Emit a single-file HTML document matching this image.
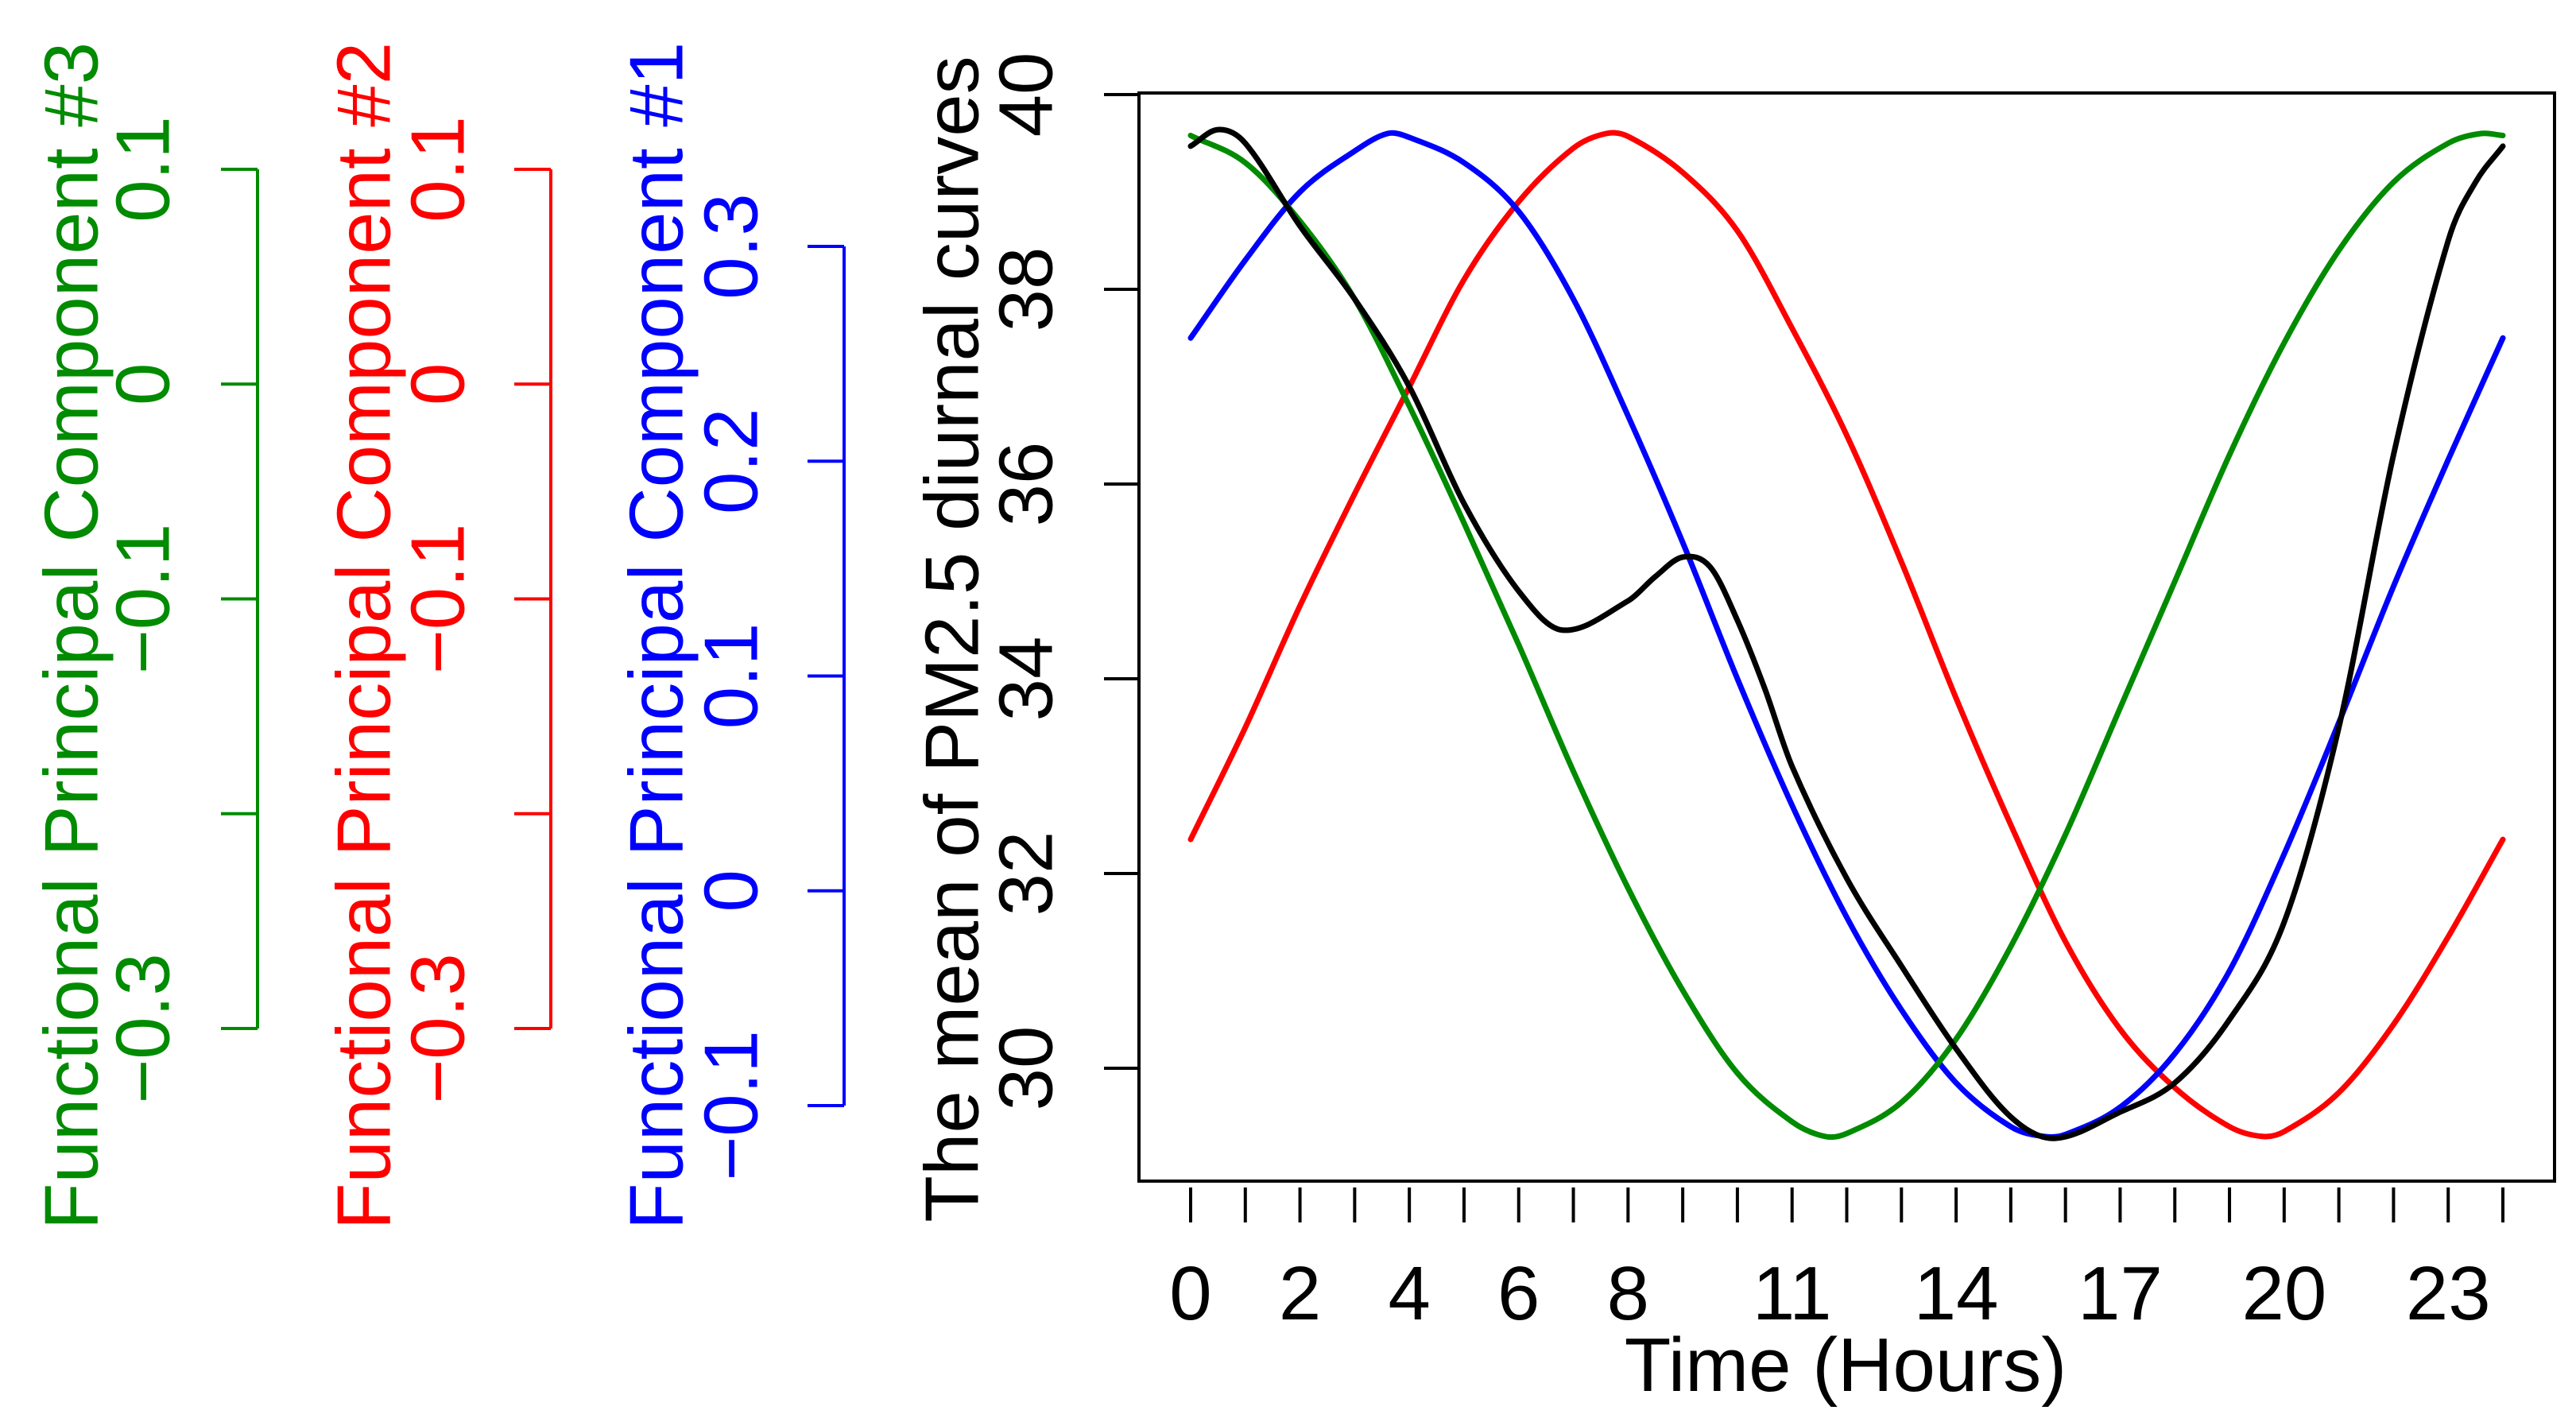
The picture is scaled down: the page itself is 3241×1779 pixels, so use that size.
<!DOCTYPE html>
<html><head><meta charset="utf-8"><style>
html,body{margin:0;padding:0;background:#fff;}
svg{display:block;font-family:"Liberation Sans",sans-serif;}
</style></head><body>
<svg id="chart" width="3241" height="1779" viewBox="0 0 3241 1779" xmlns="http://www.w3.org/2000/svg">
<g id="left-axes"></g>
<g id="plot"></g>
</svg>
<script>
// ---- data ----
const hoursBlack = [0,0.5,1,2,3,4,5,6,6.8,8,8.5,9,9.5,10,10.5,11,12,13,14,15,15.8,17,18,19,20,21,22,23,23.5,24];
const meanBlack  = [39.47,39.64,39.5,38.65,37.9,37.0,35.8,34.9,34.5,34.8,35.05,35.25,35.15,34.6,33.9,33.1,31.95,31.05,30.2,29.5,29.28,29.55,29.85,30.5,31.5,33.5,36.3,38.5,39.1,39.47];
const hoursBlue = [0,1,2,3,3.6,4,5,6,7,8,9,10,11,12,13,14,15,15.6,16,17,18,19,20,21,22,23,24];
const fpc1Blue  = [37.5,38.3,39.0,39.42,39.6,39.56,39.3,38.8,37.9,36.7,35.4,34.0,32.7,31.55,30.6,29.85,29.4,29.3,29.32,29.6,30.15,31.0,32.2,33.55,34.95,36.25,37.5];
const hoursRed = [0,1,2,3,4,5,6,7,7.6,8,9,10,11,12,13,14,15,16,17,18,19,19.6,20,21,22,23,24];
const fpc2Red   = [32.35,33.5,34.75,35.9,37.0,38.1,38.9,39.45,39.6,39.57,39.2,38.6,37.6,36.5,35.2,33.8,32.5,31.3,30.4,29.8,29.4,29.3,29.35,29.75,30.45,31.35,32.35];
const hoursGreen = [0,1,2,3,4,5,6,7,8,9,10,11,11.6,12,13,14,15,16,17,18,19,20,21,22,23,23.6,24];
const fpc3Green = [39.58,39.3,38.7,37.9,36.8,35.6,34.35,33.05,31.85,30.8,29.95,29.45,29.3,29.33,29.65,30.3,31.25,32.4,33.7,35.0,36.3,37.45,38.4,39.1,39.5,39.6,39.58];
const yTicks = [30,32,34,36,38,40];
const xTicks = [0,1,2,3,4,5,6,7,8,9,10,11,12,13,14,15,16,17,18,19,20,21,22,23,24];
const xLabels = [0,2,4,6,8,11,14,17,20,23];
const fpc1Ticks = [-0.1,0,0.1,0.2,0.3];
const fpc1Labels = ["\u22120.1","0","0.1","0.2","0.3"];
const fpc23Ticks = [-0.3,-0.2,-0.1,0,0.1];
const fpc23Labels = ["\u22120.3","","\u22120.1","0","0.1"];

const NS = "http://www.w3.org/2000/svg";
function mk(tag, attrs, parent){const e=document.createElementNS(NS,tag);for(const k in attrs)e.setAttribute(k,attrs[k]);parent.appendChild(e);return e;}
const X = h => 1498 + h*(3149-1498)/24;
const Y = v => 119 + (40-v)*122.5;
const plot = document.getElementById('plot');
const left = document.getElementById('left-axes');

const box = mk('rect',{x:1433,y:117,width:1781,height:1369,fill:'none',stroke:'#000','stroke-width':4},plot);



const yl = mk('line',{x1:1433,x2:1433,y1:Y(30),y2:Y(40),stroke:'#000','stroke-width':4},plot);


yTicks.forEach(v=>{
  const t=mk('line',{x1:1389,x2:1433,y1:Y(v),y2:Y(v),stroke:'#000','stroke-width':4},plot);
  
  
  const tx=mk('text',{x:0,y:0,transform:`translate(1291,${Y(v)}) rotate(-90)`,'text-anchor':'middle','dominant-baseline':'central','font-size':96,fill:'#000'},plot);
  tx.textContent=v;
  
  
});
const yt=mk('text',{x:0,y:0,transform:'translate(1198,804) rotate(-90)','text-anchor':'middle','dominant-baseline':'central','font-size':96,fill:'#000'},plot);
yt.textContent='The mean of PM2.5 diurnal curves';



xTicks.forEach(h=>{
  const t=mk('line',{x1:X(h),x2:X(h),y1:1494,y2:1538,stroke:'#000','stroke-width':4},plot);
  
  
});
xLabels.forEach(h=>{
  const tx=mk('text',{x:X(h),y:1660,'text-anchor':'middle','font-size':96,fill:'#000'},plot);
  tx.textContent=h;
  
  
});
const xt=mk('text',{x:2322,y:1750,'text-anchor':'middle','font-size':96,fill:'#000'},plot);
xt.textContent='Time (Hours)';



function curve(xs, ys, color, name){
  const pts = xs.map((h,i)=>[X(h),Y(ys[i])]);
  let d = `M${pts[0][0]},${pts[0][1]}`;
  for(let i=0;i<pts.length-1;i++){
    const p0=pts[Math.max(0,i-1)],p1=pts[i],p2=pts[i+1],p3=pts[Math.min(pts.length-1,i+2)];
    const dx=p2[0]-p1[0];
    const m1=(p2[1]-p0[1])/(p2[0]-p0[0]||1), m2=(p3[1]-p1[1])/(p3[0]-p1[0]||1);
    const c1=[p1[0]+dx/3,p1[1]+m1*dx/3];
    const c2=[p2[0]-dx/3,p2[1]-m2*dx/3];
    d+=` C${c1[0]},${c1[1]} ${c2[0]},${c2[1]} ${p2[0]},${p2[1]}`;
  }
  const p=mk('path',{d:d,fill:'none',stroke:color,'stroke-width':7,'stroke-linejoin':'round','stroke-linecap':'round'},plot);
  
  
}
curve(hoursRed,fpc2Red,'#ff0000','fpc2-curve');
curve(hoursBlue,fpc1Blue,'#0000ff','fpc1-curve');
curve(hoursGreen,fpc3Green,'#008b00','fpc3-curve');
curve(hoursBlack,meanBlack,'#000000','mean-curve');

function fpcAxis(ticks, labels, yOf, lineX, labelX, titleX, color, title, nm){
  const l=mk('line',{x1:lineX,x2:lineX,y1:yOf(ticks[0]),y2:yOf(ticks[ticks.length-1]),stroke:color,'stroke-width':4},left);
  
  
  ticks.forEach((v,i)=>{
    const t=mk('line',{x1:lineX-46,x2:lineX,y1:yOf(v),y2:yOf(v),stroke:color,'stroke-width':4},left);
    
    
    if(labels[i]){
      const tx=mk('text',{x:0,y:0,transform:`translate(${labelX},${yOf(v)}) rotate(-90)`,'text-anchor':'middle','dominant-baseline':'central','font-size':96,fill:color},left);
      tx.textContent=labels[i];
      
      
    }
  });
  const tt=mk('text',{x:0,y:0,transform:`translate(${titleX},800) rotate(-90)`,'text-anchor':'middle','dominant-baseline':'central','font-size':96,fill:color},left);
  tt.textContent=title;
  
  
}
const Y23 = v => 1294 - (v+0.3)*2702.5;
const Y1 = v => 1391 - (v+0.1)*2702.5;
fpcAxis(fpc23Ticks,fpc23Labels,Y23,324,180,90,'#008b00','Functional Principal Component #3','fpc3');
fpcAxis(fpc23Ticks,fpc23Labels,Y23,693,551,458,'#ff0000','Functional Principal Component #2','fpc2');
fpcAxis(fpc1Ticks,fpc1Labels,Y1,1062,920,826,'#0000ff','Functional Principal Component #1','fpc1');
</script>
</body></html>
